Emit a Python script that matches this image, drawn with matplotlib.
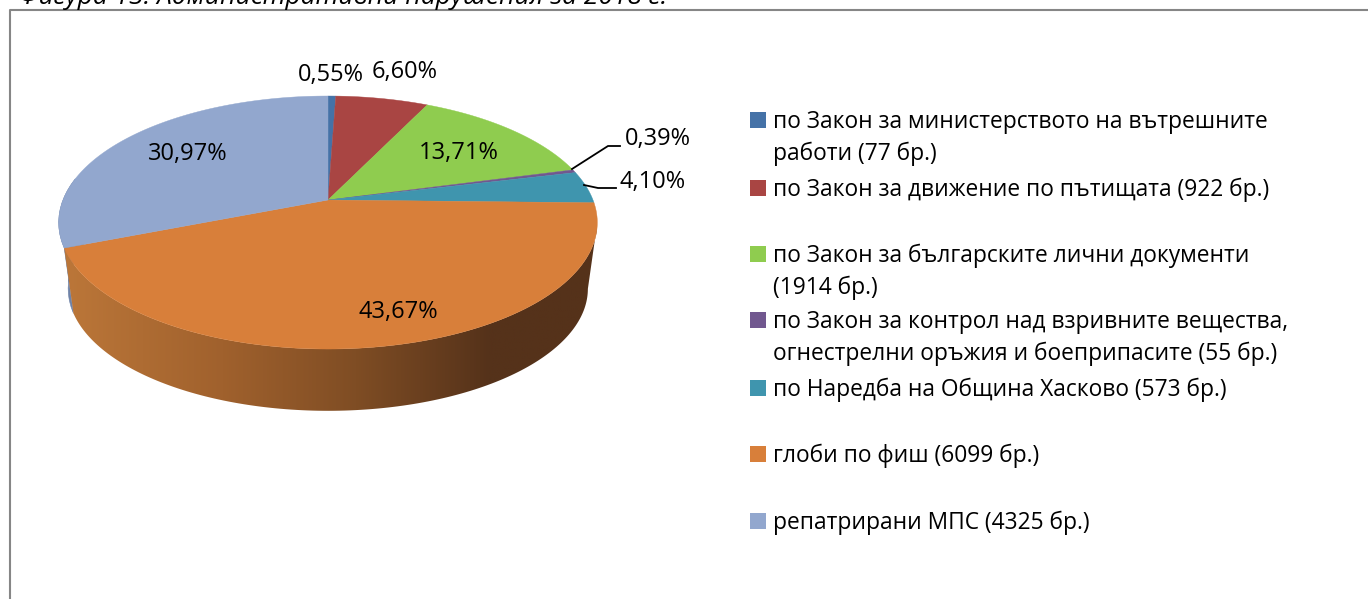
import numpy as np
import matplotlib
matplotlib.use('Agg')
import matplotlib.pyplot as plt
from matplotlib.colors import LinearSegmentedColormap
from matplotlib.patches import Polygon

# Observed from the reference: counts from the legend, labels as printed.
categories = [
    'по Закон за министерството на вътрешните\nработи (77 бр.)',
    'по Закон за движение по пътищата (922 бр.)',
    'по Закон за българските лични документи\n(1914 бр.)',
    'по Закон за контрол над взривните вещества,\nогнестрелни оръжия и боеприпасите (55 бр.)',
    'по Наредба на Община Хасково (573 бр.)',
    'глоби по фиш (6099 бр.)',
    'репатрирани МПС (4325 бр.)',
]
counts = [77, 922, 1914, 55, 573, 6099, 4325]
pct_labels = ['0,55%', '6,60%', '13,71%', '0,39%', '4,10%', '43,67%', '30,97%']
colors = ['#4572A7', '#A94543', '#8FCC4F', '#71588F', '#3F95AE', '#D87F3A', '#92A7CE']

W, H = 1368, 599
fig = plt.figure(figsize=(W / 100, H / 100), dpi=100)
ax = fig.add_axes([0, 0, 1, 1])
ax.axis('off')

# frame and clipped caption
ax.plot([1368, 10, 10], [10, 10, 599], color='#868686', lw=1.5)
ax.text(19, 4, 'Фигура 13. Административни нарушения за 2018 г.', family='Open Sans',
        style='italic', fontsize=18.9, ha='left', va='baseline', color='black')

# perspective ellipse
cx, cy = 328, 200
rx, ry, persp = 265, 122.5, 0.178
depth, shrink = 67, 0.965


def project(t, scale=1.0, dy=0.0):
    x, y = np.sin(t), np.cos(t)
    w = 1 + persp * y
    return cx + scale * rx * x / w, cy + dy - scale * ry * y / w


fractions = np.array(counts) / sum(counts)
edges = np.concatenate([[0], np.cumsum(fractions)]) * 2 * np.pi

# side wall, dark on the right to light on the left
ts = np.linspace(0.5 * np.pi + 0.18, edges[6], 150)
xt, yt = project(ts)
xb, yb = project(ts[::-1], shrink, depth)
wall = Polygon(np.c_[np.r_[xt, xb], np.r_[yt, yb]], transform=ax.transData, fc='none', ec='none')
ax.add_patch(wall)
wall_cmap = LinearSegmentedColormap.from_list(
    'wall', [(0, '#BC7739'), (0.3, '#A0612D'), (0.55, '#7F4D24'), (0.8, '#55321A'), (1, '#55321A')])
img = ax.imshow(np.linspace(0, 1, 256).reshape(1, -1), cmap=wall_cmap, aspect='auto',
                extent=(62, 597, 420, 200), zorder=2)
img.set_clip_path(wall)

ts = np.linspace(edges[6], 1.5 * np.pi + 0.18, 12)
xt, yt = project(ts)
xb, yb = project(ts[::-1], shrink, depth)
ax.fill(np.r_[xt, xb], np.r_[yt, yb], color='#6F83A8', lw=0.4, zorder=1)

# top face
for i, col in enumerate(colors):
    ts = np.linspace(edges[i], edges[i + 1], max(int(fractions[i] * 400), 4))
    xs, ys = project(ts)
    ax.fill(np.r_[cx, xs], np.r_[cy, ys], color=col, lw=0.3, zorder=3)

# percentage labels
label_pos = [(331, 75), (405, 72), (459, 153), (658, 139), (653, 182), (398, 312), (188, 154)]
for text, (x, y) in zip(pct_labels, label_pos):
    ax.text(x, y, text, family=['Open Sans', 'DejaVu Sans'], fontsize=17, ha='center', va='center', zorder=5)

# leader lines
ax.plot([572, 608, 620], [169, 146, 146], color='black', lw=1.3, zorder=4)
ax.plot([584, 598, 616], [185, 188, 188], color='black', lw=1.3, zorder=4)

# legend
legend_y = [120, 188, 254, 320, 388, 454, 521]
for name, col, y in zip(categories, colors, legend_y):
    ax.scatter([758], [y], marker='s', s=118, color=col, lw=0, zorder=5)
    ax.text(773, y - 10.5, name, family=['Open Sans', 'DejaVu Sans'], fontsize=16.4,
            va='top', ha='left', linespacing=1.43, zorder=5)

ax.set_xlim(0, W)
ax.set_ylim(H, 0)

fig.savefig('out.png', dpi=100)
